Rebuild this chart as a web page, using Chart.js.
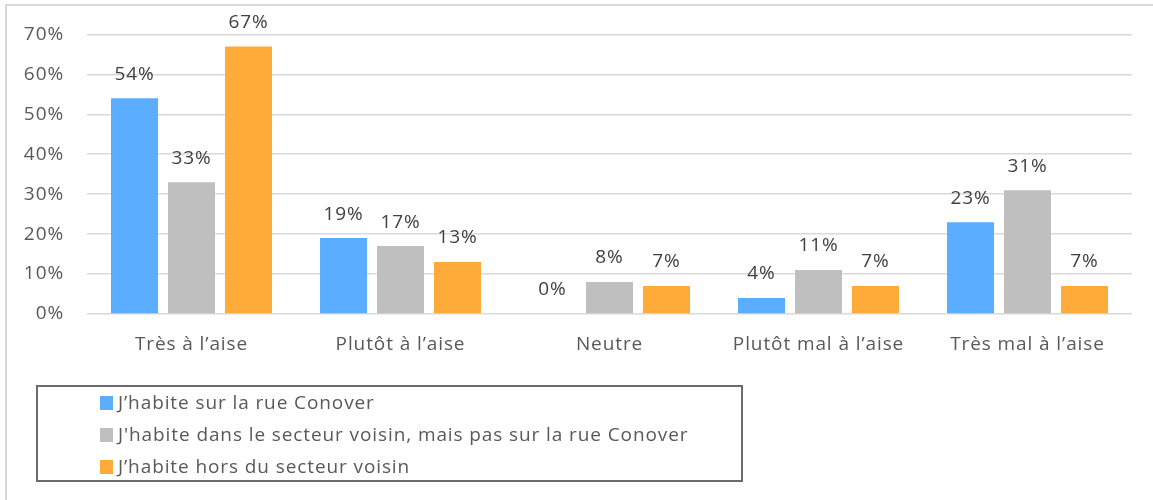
<!DOCTYPE html>
<html>
<head>
<meta charset="utf-8">
<script src="https://cdn.jsdelivr.net/npm/chart.js@4.4.1/dist/chart.umd.min.js"></script>
<style>
  html, body { margin: 0; padding: 0; background: #fff; }
  #wrap { position: relative; width: 1153px; height: 500px; overflow: hidden; }
  #frame { position: absolute; left: 5px; top: 4px; width: 1160px; height: 520px; border-left: 2px solid #d9d9d9; border-top: 2px solid #d9d9d9; box-sizing: border-box; }
  canvas { position: absolute; left: 0; top: 0; }
  #legend { position: absolute; left: 36px; top: 385px; width: 707px; height: 97px; border: 2px solid #6b6b6b; box-sizing: border-box; font-family: "Open Sans", sans-serif; font-size: 19px; letter-spacing: 0.9px; color: #595959; }
  .li { position: absolute; left: 62px; height: 24px; line-height: 24px; white-space: nowrap; }
  .sw { display: inline-block; width: 13px; height: 14px; margin-right: 5px; vertical-align: -1px; }
</style>
</head>
<body>
<div id="wrap">
  <div id="frame"></div>
  <canvas id="c" width="1153" height="500"></canvas>
  <div id="legend"></div>
</div>
<script>
const categories = ["Très à l\u2019aise", "Plutôt à l\u2019aise", "Neutre", "Plutôt mal à l\u2019aise", "Très mal à l\u2019aise"];
const seriesNames = ["J\u2019habite sur la rue Conover", "J'habite dans le secteur voisin, mais pas sur la rue Conover", "J\u2019habite hors du secteur voisin"];
const rueConover = [54, 19, 0, 4, 23];
const secteurVoisin = [33, 17, 8, 11, 31];
const horsSecteur = [67, 13, 7, 7, 7];
const yTicks = [0, 10, 20, 30, 40, 50, 60, 70];
const colors = ["#5badff", "#bfbfbf", "#ffab3a"];

const seriesValues = [rueConover, secteurVoisin, horsSecteur];
const FONT = '"Open Sans", sans-serif';
const SPACING = '0.9px';

const spacingPlugin = {
  id: 'spacing',
  beforeInit(chart) { chart.ctx.letterSpacing = SPACING; },
  beforeLayout(chart) { chart.ctx.letterSpacing = SPACING; },
  beforeDraw(chart) { chart.ctx.letterSpacing = SPACING; }
};

const dataLabels = {
  id: 'dataLabels',
  afterDatasetsDraw(chart) {
    const ctx = chart.ctx;
    ctx.save();
    ctx.letterSpacing = SPACING;
    ctx.font = '19px ' + FONT;
    ctx.fillStyle = '#404040';
    ctx.textAlign = 'center';
    ctx.textBaseline = 'middle';
    chart.data.datasets.forEach((ds, i) => {
      const meta = chart.getDatasetMeta(i);
      meta.data.forEach((bar, j) => {
        ctx.fillText(ds.data[j] + '%', bar.x, bar.y - 24);
      });
    });
    ctx.restore();
  }
};

new Chart(document.getElementById('c'), {
  type: 'bar',
  data: {
    labels: categories,
    datasets: seriesValues.map((vals, i) => ({
      label: seriesNames[i],
      data: vals,
      backgroundColor: colors[i],
      borderWidth: 0,
      categoryPercentage: 0.818,
      barPercentage: 0.825
    }))
  },
  options: {
    responsive: false,
    animation: false,
    devicePixelRatio: 1,
    layout: { padding: { left: 0, right: 21, top: 28, bottom: 126 } },
    plugins: { legend: { display: false }, tooltip: { enabled: false } },
    scales: {
      x: {
        grid: { display: false },
        border: { display: false },
        ticks: { color: '#595959', font: { family: FONT, size: 19 }, padding: 11, maxRotation: 0 },
        afterFit(s) { s.height = 60; }
      },
      y: {
        min: 0, max: 70,
        afterBuildTicks(s) { s.ticks = yTicks.map(v => ({ value: v })); },
        grid: { color: '#d9d9d9', lineWidth: 1.5, drawTicks: false },
        border: { display: false },
        ticks: { color: '#595959', font: { family: FONT, size: 19 }, padding: 23, callback: v => v + '%' },
        afterFit(s) { s.width = 87; }
      }
    }
  },
  plugins: [spacingPlugin, dataLabels]
});

const legend = document.getElementById('legend');
const tops = [3, 35, 67];
seriesNames.forEach((n, i) => {
  const d = document.createElement('div');
  d.className = 'li';
  d.style.top = tops[i] + 'px';
  const sw = document.createElement('span');
  sw.className = 'sw';
  sw.style.background = colors[i];
  d.appendChild(sw);
  d.appendChild(document.createTextNode(n));
  legend.appendChild(d);
});
</script>
</body>
</html>
